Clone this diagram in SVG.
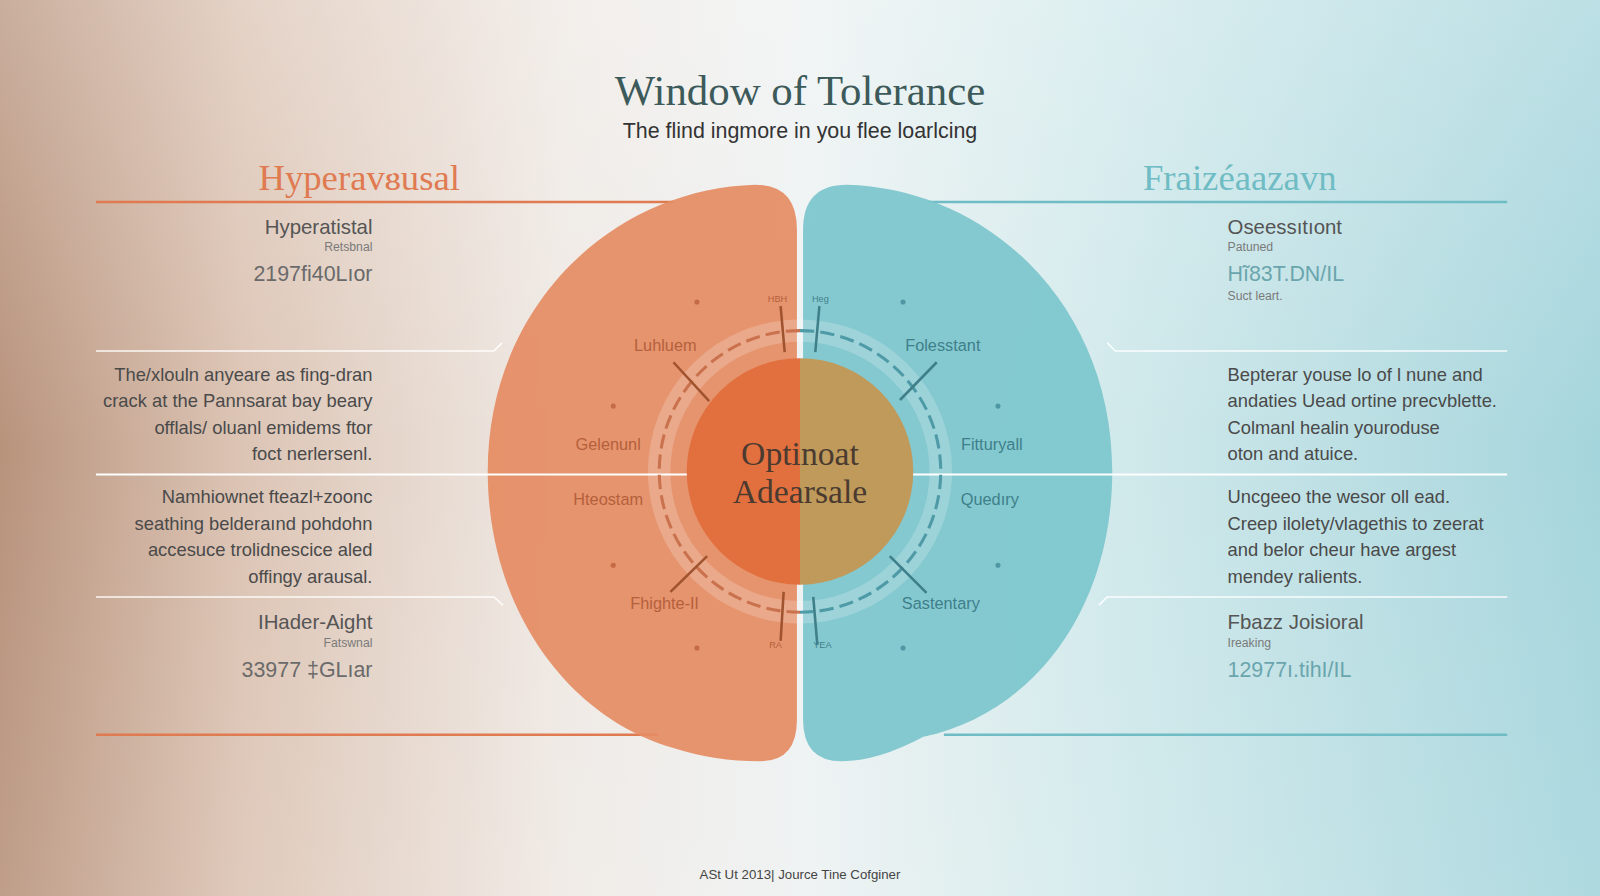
<svg xmlns="http://www.w3.org/2000/svg" width="1600" height="896" viewBox="0 0 1600 896">
<defs>
<linearGradient id="bg" x1="0" y1="0" x2="1" y2="0">
<stop offset="0" stop-color="#b8937c"/>
<stop offset="0.15" stop-color="#dcc4b4"/>
<stop offset="0.35" stop-color="#efe9e4"/>
<stop offset="0.5" stop-color="#eef2f2"/>
<stop offset="0.68" stop-color="#d3eaec"/>
<stop offset="1" stop-color="#a5d5dc"/>
</linearGradient>
<linearGradient id="vg" x1="0" y1="0" x2="0" y2="1">
<stop offset="0" stop-color="#fff" stop-opacity="0.25"/>
<stop offset="0.5" stop-color="#fff" stop-opacity="0"/>
<stop offset="1" stop-color="#fff" stop-opacity="0.1"/>
</linearGradient>
<style>
.t{font-family:"Liberation Sans",Arial,sans-serif;fill:#444}
.sv{font-family:"Liberation Serif","DejaVu Serif",serif}
.r{text-anchor:end}
.m{text-anchor:middle}
.body{font-size:18px;fill:#4a4a4a}
.big{font-size:20px;fill:#555}
.sm{font-size:12px;fill:#7a7a7a}
.num{font-size:21px;fill:#6a6a6a}
.lab{font-size:16px}
.thin{stroke:#fff;stroke-width:1.5;fill:none;opacity:.9}
</style>
</defs>
<rect width="1600" height="896" fill="url(#bg)"/>
<rect width="1600" height="896" fill="url(#vg)"/>
<g transform="scale(1.0204)">
<g id="connectors">
<line x1="94" y1="198" x2="660" y2="198" stroke="#e07a50" stroke-width="2.5"/>
<line x1="910" y1="198" x2="1477" y2="198" stroke="#6fbcc4" stroke-width="2.5"/>
<line x1="94" y1="720" x2="645" y2="720" stroke="#e07a50" stroke-width="2.5"/>
<line x1="925" y1="720" x2="1477" y2="720" stroke="#6fbcc4" stroke-width="2.5"/>
<polyline class="thin" points="94,344 484,344 492,336"/>
<polyline class="thin" points="94,585 484,585 493,593"/>
<polyline class="thin" points="1085,336 1093,344 1477,344"/>
<polyline class="thin" points="1077,593 1085,585 1477,585"/>
</g>
<g id="left-lobe">
<path d="M740,181 C600,185 478,300 478,462 C478,600 560,705 660,733 Q700,746 745,746 Q781,746 781,705 L781,225 Q781,181 740,181 Z" fill="#e58c63" opacity="0.92"/>
</g>
<g id="right-lobe">
<path d="M830,181 C970,185 1090,300 1090,462 C1090,600 1010,700 905,722 Q860,746 825,746 Q787,746 787,705 L787,225 Q787,181 830,181 Z" fill="#7cc5cd" opacity="0.92"/>
</g>
<line x1="94" y1="465" x2="1477" y2="465" stroke="#fff" stroke-width="2"/>
<g id="ring">
<circle cx="784" cy="462" r="138" fill="none" stroke="#fff" stroke-width="22" opacity="0.2"/>
<path d="M784,324 A138,138 0 0 0 784,600" fill="none" stroke="#c9724d" stroke-width="3" stroke-dasharray="14 6"/>
<path d="M784,324 A138,138 0 0 1 784,600" fill="none" stroke="#4e9aa6" stroke-width="3" stroke-dasharray="14 6"/>
<g stroke="#a0532f" stroke-width="2.5"><line x1="765" y1="300" x2="769" y2="345"/><line x1="660" y1="355" x2="695" y2="393"/><line x1="657" y1="580" x2="693" y2="545"/><line x1="768" y1="580" x2="765" y2="628"/></g>
<g stroke="#3f7f8a" stroke-width="2.5"><line x1="803" y1="300" x2="799" y2="345"/><line x1="918" y1="355" x2="882" y2="392"/><line x1="872" y1="545" x2="908" y2="581"/><line x1="797" y1="585" x2="801" y2="632"/></g>
<g fill="#c46a45"><circle cx="683" cy="296" r="2.5"/><circle cx="601" cy="398" r="2.5"/><circle cx="601" cy="554" r="2.5"/><circle cx="683" cy="635" r="2.5"/></g>
<g fill="#4e97a3"><circle cx="885" cy="296" r="2.5"/><circle cx="978" cy="398" r="2.5"/><circle cx="978" cy="554" r="2.5"/><circle cx="885" cy="635" r="2.5"/></g>
</g>
<g id="center">
<path d="M784,351 A111,111 0 0 0 784,573 Z" fill="#e2703f"/>
<path d="M784,351 A111,111 0 0 1 784,573 Z" fill="#c09a5a"/>
<text class="sv m" x="784" y="456" font-size="33" fill="#4a3a30">Optinoat</text>
<text class="sv m" x="784" y="493" font-size="33" fill="#4a3a30">Adearsale</text>
</g>
<g id="ring-labels" class="t lab">
<text x="652" y="344" class="m" style="fill:#b5603c">Luhluem</text>
<text x="596" y="441" class="m" style="fill:#b5603c">Gelenunl</text>
<text x="596" y="495" class="m" style="fill:#b5603c">Hteostam</text>
<text x="651" y="597" class="m" style="fill:#b5603c">Fhighte-Il</text>
<text x="924" y="344" class="m" style="fill:#3f7f8a">Folesstant</text>
<text x="972" y="441" class="m" style="fill:#3f7f8a">Fitturyall</text>
<text x="970" y="495" class="m" style="fill:#3f7f8a">Quedıry</text>
<text x="922" y="597" class="m" style="fill:#3f7f8a">Sastentary</text>
<text x="762" y="296" class="m" font-size="9" style="fill:#b5603c">HBH</text>
<text x="804" y="296" class="m" font-size="9" style="fill:#3f7f8a">Heg</text>
<text x="760" y="635" class="m" font-size="9" style="fill:#b5603c">RA</text>
<text x="806" y="635" class="m" font-size="9" style="fill:#3f7f8a">YEA</text>
</g>
<g id="title">
<text class="sv m" x="784" y="103" font-size="42" fill="#3d5a5a">Window of Tolerance</text>
<text class="t m" x="784" y="135" font-size="21" style="fill:#333">The flind ingmore in you flee loarlcing</text>
</g>
<g id="left-header"><text class="sv m" x="352" y="186" font-size="36" fill="#e07a50">Hyperavᴕusal</text></g>
<g id="right-header"><text class="sv m" x="1215" y="186" font-size="36" fill="#6fbcc4">Fraizéaazavn</text></g>
<g id="left-top" class="t r">
<text x="365" y="229" class="big">Hyperatistal</text>
<text x="365" y="246" class="sm">Retsbnal</text>
<text x="365" y="275" class="num">2197fi40Lıor</text>
</g>
<g id="left-mid" class="t r">
<text x="365" y="373" class="body">The/xlouln anyeare as fing-dran</text>
<text x="365" y="399" class="body">crack at the Pannsarat bay beary</text>
<text x="365" y="425" class="body">offlals/ oluanl emidems ftor</text>
<text x="365" y="451" class="body">foct nerlersenl.</text>
</g>
<g id="left-low" class="t r">
<text x="365" y="493" class="body">Namhiownet fteazl+zoonc</text>
<text x="365" y="519" class="body">seathing belderaınd pohdohn</text>
<text x="365" y="545" class="body">accesuce trolidnescice aled</text>
<text x="365" y="571" class="body">offingy arausal.</text>
</g>
<g id="left-bottom" class="t r">
<text x="365" y="616" class="big">IHader-Aight</text>
<text x="365" y="634" class="sm">Fatswnal</text>
<text x="365" y="663" class="num">33977 ‡GLıar</text>
</g>
<g id="right-top" class="t">
<text x="1203" y="229" class="big">Oseessıtıont</text>
<text x="1203" y="246" class="sm">Patuned</text>
<text x="1203" y="275" class="num" style="fill:#6aa5ad">Hĩ83T.DN/IL</text>
<text x="1203" y="294" class="sm">Suct leart.</text>
</g>
<g id="right-mid" class="t">
<text x="1203" y="373" class="body">Bepterar youse lo of l nune and</text>
<text x="1203" y="399" class="body">andaties Uead ortine precvblette.</text>
<text x="1203" y="425" class="body">Colmanl healin youroduse</text>
<text x="1203" y="451" class="body">oton and atuice.</text>
</g>
<g id="right-low" class="t">
<text x="1203" y="493" class="body">Uncgeeo the wesor oll ead.</text>
<text x="1203" y="519" class="body">Creep ilolety/vlagethis to zeerat</text>
<text x="1203" y="545" class="body">and belor cheur have argest</text>
<text x="1203" y="571" class="body">mendey ralients.</text>
</g>
<g id="right-bottom" class="t">
<text x="1203" y="616" class="big">Fbazz Joisioral</text>
<text x="1203" y="634" class="sm">Ireaking</text>
<text x="1203" y="663" class="num" style="fill:#6aa5ad">12977ı.tihI/IL</text>
</g>
<g id="footer"><text class="t m" x="784" y="861" font-size="13" style="fill:#444">ASt Ut 2013| Jource Tine Cofginer</text></g>
</g>
</svg>
